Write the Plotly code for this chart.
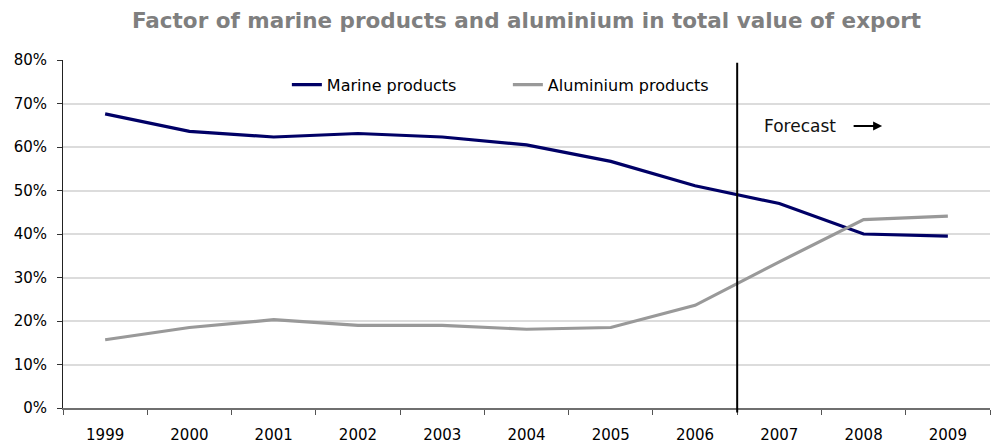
import plotly.graph_objects as go

# Export shares by year (fraction of total export value)
years = ["1999", "2000", "2001", "2002", "2003", "2004", "2005", "2006", "2007", "2008", "2009"]
marine = [0.676, 0.636, 0.623, 0.631, 0.623, 0.605, 0.567, 0.511, 0.470, 0.400, 0.395]
aluminium = [0.157, 0.185, 0.203, 0.190, 0.190, 0.181, 0.185, 0.236, 0.336, 0.433, 0.441]

series_names = ["Marine products", "Aluminium products"]
y_ticks = [0, 0.1, 0.2, 0.3, 0.4, 0.5, 0.6, 0.7, 0.8]

FONT = "DejaVu Sans"

fig = go.Figure()
fig.add_trace(go.Scatter(
    x=years, y=marine, mode="lines", name=series_names[0],
    line=dict(color="#000066", width=3.2),
))
fig.add_trace(go.Scatter(
    x=years, y=aluminium, mode="lines", name=series_names[1],
    line=dict(color="#999999", width=3.2),
))

# Divider between actual figures and forecast (boundary 2006 | 2007)
fig.add_shape(
    type="line", xref="paper", yref="paper",
    x0=8 / 11, x1=8 / 11, y0=-0.013, y1=0.992,
    line=dict(color="#000000", width=2),
)

# Forecast label with arrow
fig.add_annotation(
    x=8.25, y=0.648, xref="x", yref="y", text="Forecast", showarrow=False,
    font=dict(family=FONT, size=17, color="#111111"),
)
fig.add_annotation(
    x=9.22, y=0.648, xref="x", yref="y", ax=-30, ay=0, text="",
    showarrow=True, arrowhead=2, arrowsize=0.9, arrowwidth=2, arrowcolor="#000000",
)

fig.update_layout(
    width=996, height=444,
    margin=dict(l=63, r=6, t=60, b=36),
    paper_bgcolor="white", plot_bgcolor="white",
    title=dict(
        text="Factor of marine products and aluminium in total value of export",
        x=(63 + 990) / 2 / 996, xanchor="center", xref="container",
        y=1 - 20 / 444, yanchor="middle", yref="container",
        font=dict(family=FONT, size=21.5, color="#7f7f7f", weight="bold"),
    ),
    legend=dict(
        orientation="h", x=0.2415, xanchor="left", y=0.929, yanchor="middle",
        font=dict(family=FONT, size=16, color="#000000"),
        bgcolor="rgba(0,0,0,0)", entrywidth=176, entrywidthmode="pixels",
    ),
    showlegend=True,
    xaxis=dict(
        type="category", categoryorder="array", categoryarray=years,
        range=[-0.5, 10.5], tickson="boundaries",
        ticks="outside", ticklen=5, tickcolor="#555555", tickwidth=1,
        showline=True, linecolor="#6f6f6f", linewidth=1.5,
        showgrid=False, zeroline=False, ticklabelstandoff=12,
        automargin=False,
        tickfont=dict(family=FONT, size=15, color="#000000"),
    ),
    yaxis=dict(
        range=[0, 0.8], tickvals=y_ticks, tickformat=".0%",
        ticks="outside", ticklen=5, tickcolor="#333333", tickwidth=1,
        showline=True, linecolor="#222222", linewidth=1,
        showgrid=True, gridcolor="#dcdcdc", gridwidth=1.5,
        zeroline=False, ticklabelstandoff=7, automargin=False,
        tickfont=dict(family=FONT, size=15, color="#000000"),
    ),
)

fig.write_html("out.html")
